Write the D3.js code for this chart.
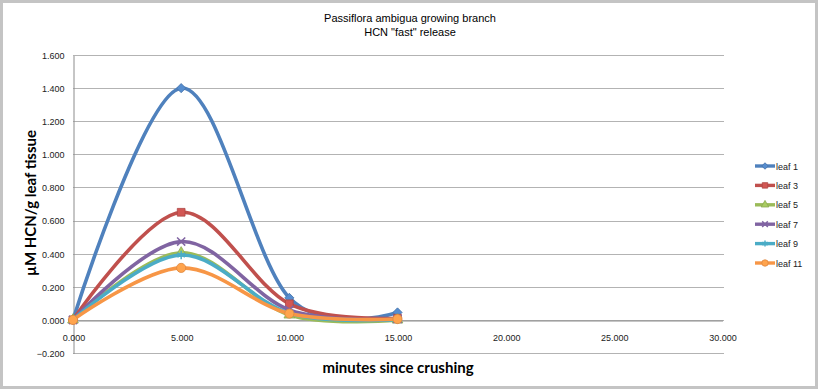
<!DOCTYPE html>
<html>
<head>
<meta charset="utf-8">
<script src="https://cdn.jsdelivr.net/npm/d3@7"></script>
<style>
  body { margin: 0; background: #fff; }
  svg { display: block; }
</style>
</head>
<body>
<script>
// minutes since crushing
const minutes = [0, 5, 10, 15];
const leaf1 = [0, 1.400, 0.133, 0.045];
const leaf3 = [0, 0.650, 0.097, 0.010];
const leaf5 = [0, 0.405, 0.030, 0.000];
const leaf7 = [0, 0.473, 0.060, 0.005];
const leaf9 = [0, 0.392, 0.040, 0.003];
const leaf11 = [0, 0.314, 0.038, 0.005];
const seriesNames = ["leaf 1", "leaf 3", "leaf 5", "leaf 7", "leaf 9", "leaf 11"];
const seriesColors = ["#4F81BD", "#C0504D", "#9BBB59", "#8064A2", "#4BACC6", "#F79646"];
const xTicks = [0, 5, 10, 15, 20, 25, 30];
const yTicks = [-0.2, 0, 0.2, 0.4, 0.6, 0.8, 1.0, 1.2, 1.4, 1.6];

const series = [leaf1, leaf3, leaf5, leaf7, leaf9, leaf11].map((vals, i) => ({
  name: seriesNames[i],
  color: seriesColors[i],
  values: vals.map((v, j) => ({ x: minutes[j], y: v }))
}));

const width = 819, height = 390;
const x = d3.scaleLinear().domain([0, 30]).range([73, 722]);
const y = d3.scaleLinear().domain([-0.2, 1.6]).range([353, 55]);

const svg = d3.select("body").append("svg")
  .attr("width", width)
  .attr("height", height);

// chart border
svg.append("rect")
  .attr("x", 1.5).attr("y", 1.5)
  .attr("width", 815).attr("height", 386)
  .attr("fill", "#fff")
  .attr("stroke", "#c4c4c4")
  .attr("stroke-width", 3);

// title
svg.append("text")
  .attr("x", 410).attr("y", 22)
  .attr("text-anchor", "middle")
  .style("font", "11px 'Liberation Sans', Arial, sans-serif")
  .selectAll("tspan")
  .data(["Passiflora ambigua growing branch", "HCN \"fast\" release"])
  .join("tspan")
  .attr("x", 410)
  .attr("dy", (d, i) => i ? 14 : 0)
  .text(d => d);

// gridlines
svg.append("g")
  .selectAll("line")
  .data(yTicks)
  .join("line")
  .attr("x1", x(0)).attr("x2", x(30) + 2)
  .attr("y1", d => Math.round(y(d)) + 0.5)
  .attr("y2", d => Math.round(y(d)) + 0.5)
  .attr("stroke", "#b3b3b3")
  .attr("stroke-width", 1.2);

// y axis
const yAxis = d3.axisLeft(y)
  .tickValues(yTicks)
  .tickSize(0)
  .tickPadding(9)
  .tickFormat(d3.format(".3f"));
svg.append("g")
  .attr("transform", `translate(${Math.round(x(0)) + 0.5},0.5)`)
  .call(yAxis)
  .call(g => g.select(".domain").attr("stroke", "#8c8c8c"))
  .call(g => g.selectAll("text")
    .style("font", "9px 'Liberation Sans', Arial, sans-serif")
    .attr("fill", "#222"));

// x axis at zero
const xAxis = d3.axisBottom(x)
  .tickValues(xTicks)
  .tickSize(0)
  .tickPadding(14)
  .tickFormat(d3.format(".3f"));
svg.append("g")
  .attr("transform", `translate(0.5,${Math.round(y(0)) + 0.5})`)
  .call(xAxis)
  .call(g => g.select(".domain").attr("stroke", "#8c8c8c"))
  .call(g => g.selectAll("text")
    .style("font", "9px 'Liberation Sans', Arial, sans-serif")
    .attr("fill", "#222"));

// axis titles
svg.append("text")
  .attr("transform", `translate(36,${(y(-0.2) + y(1.6)) / 2 - 1}) rotate(-90)`)
  .attr("text-anchor", "middle")
  .style("font", "bold 15px Lato, sans-serif")
  .text("µM HCN/g leaf tissue");

svg.append("text")
  .attr("x", 398).attr("y", 373)
  .attr("text-anchor", "middle")
  .style("font", "bold 15px Lato, sans-serif")
  .text("minutes since crushing");

// marker shapes (diamond = rotated square)
const shapes = [d3.symbolSquare, d3.symbolSquare, d3.symbolTriangle, d3.symbolTimes, d3.symbolAsterisk, d3.symbolCircle];
const sizes = [42, 60, 50, 45, 50, 66];
const rotations = [45, 0, 0, 0, 0, 0];
const strokeShape = i => i === 3 || i === 4;
function drawMarker(sel, i, s) {
  sel.attr("d", d3.symbol(shapes[i], s || sizes[i])())
    .attr("fill", strokeShape(i) ? "none" : d3.color(seriesColors[i]).brighter(0.25))
    .attr("stroke", strokeShape(i) ? seriesColors[i] : d3.color(seriesColors[i]).darker(0.3))
    .attr("stroke-width", strokeShape(i) ? 1.5 : 0.8);
}

const line = d3.line()
  .x(d => x(d.x))
  .y(d => y(d.y))
  .curve(d3.curveCardinal.tension(0));

const sg = svg.append("g")
  .selectAll("g")
  .data(series)
  .join("g");

sg.append("path")
  .attr("d", d => line(d.values))
  .attr("fill", "none")
  .attr("stroke", d => d.color)
  .attr("stroke-width", 3.6)
  .attr("stroke-linejoin", "round");

sg.each(function (d, i) {
  d3.select(this).selectAll("path.marker")
    .data(d.values)
    .join("path")
    .attr("class", "marker")
    .attr("transform", p => `translate(${x(p.x)},${y(p.y)}) rotate(${rotations[i]})`)
    .call(s => drawMarker(s, i));
});

// legend
const legend = svg.append("g")
  .selectAll("g")
  .data(series)
  .join("g")
  .attr("transform", (d, i) => `translate(755,${166 + i * 19.4})`);

legend.append("line")
  .attr("x1", 0).attr("x2", 20)
  .attr("stroke", d => d.color)
  .attr("stroke-width", 3.4);

legend.append("path")
  .attr("transform", (d, i) => `translate(10,0) rotate(${rotations[i]})`)
  .each(function (d, i) { drawMarker(d3.select(this), i, sizes[i] * 0.5); });

legend.append("text")
  .attr("x", 21).attr("y", 3.5)
  .style("font", "9px 'Liberation Sans', Arial, sans-serif")
  .attr("fill", "#222")
  .text(d => d.name);
</script>
</body>
</html>
